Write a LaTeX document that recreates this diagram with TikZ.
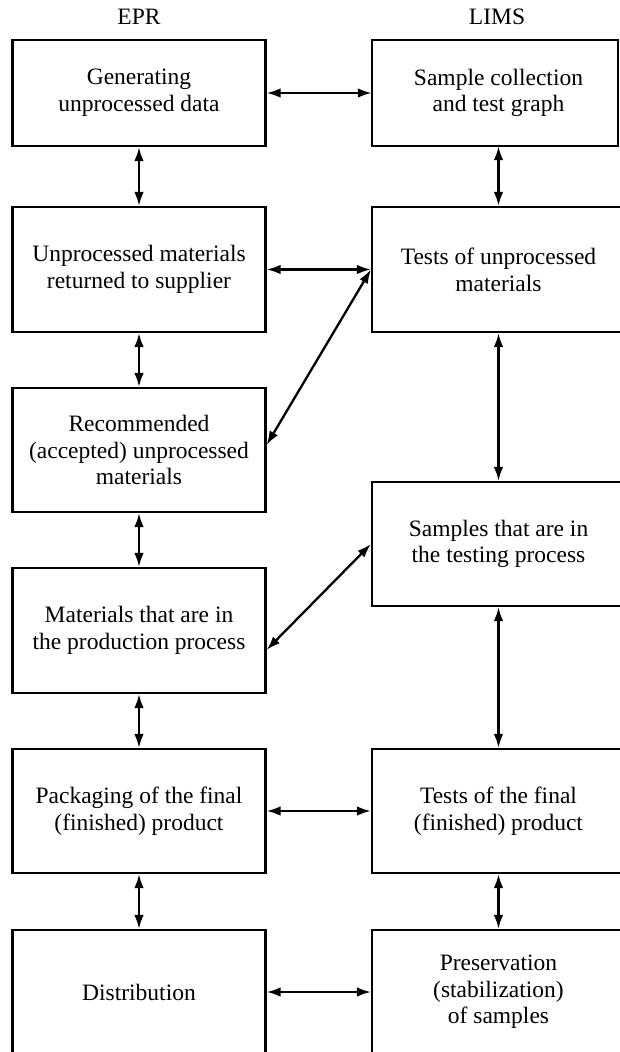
\documentclass[tikz,border=0pt]{standalone}
\usepackage{fontspec}
\setmainfont{Liberation Serif}
\usetikzlibrary{arrows.meta}
\begin{document}
\begin{tikzpicture}[x=1pt,y=-1pt,
  txt/.style={font=\fontsize{23.5}{26.7}\selectfont, align=center, inner sep=0pt},
  box/.style={txt, draw, line width=2.1pt, minimum width=253pt},
  nobox/.style={txt, minimum width=253pt},
  arr/.style={line width=2.3pt, {Latex[length=14pt,width=9.5pt]}-{Latex[length=14pt,width=9.5pt]}}]
\useasboundingbox (0,0) rectangle (619,1052);
\fill[white] (0,0) rectangle (619,1052);
% column titles
\node[txt] (epr) at (139,17) {EPR};
\node[txt] (lims) at (497,17) {LIMS};
% left column
\node[box, minimum height=106pt] (L1) at (139,93) {Generating\\unprocessed data};
\node[box, minimum height=125pt] (L2) at (139,269.5) {Unprocessed materials\\returned to supplier};
\node[box, minimum height=124pt] (L3) at (139,450) {Recommended\\(accepted) unprocessed\\materials};
\node[box, minimum height=125pt] (L4) at (139,630.5) {Materials that are in\\the production process};
\node[box, minimum height=124pt] (L5) at (139,811) {Packaging of the final\\(finished) product};
\node[box, minimum height=124pt] (L6) at (139,992) {Distribution};
% right column
\node[nobox, minimum height=106pt] (R1) at (498.5,93) {Sample collection\\and test graph};
\draw[line width=2.1pt] (R1.north west) rectangle ([xshift=-7.5pt]R1.south east);
\node[box, minimum height=125pt] (R2) at (498.5,269.5) {Tests of unprocessed\\materials};
\node[box, minimum height=124pt] (R3) at (498.5,544) {Samples that are in\\the testing process};
\node[box, minimum height=124pt] (R4) at (498.5,811) {Tests of the final\\(finished) product};
\node[box, minimum height=124pt] (R5) at (498.5,992) {Preservation\\(stabilization)\\of samples};
% vertical connectors
\draw[arr] (L1) -- (L2);
\draw[arr] (L2) -- (L3);
\draw[arr] (L3) -- (L4);
\draw[arr] (L4) -- (L5);
\draw[arr] (L5) -- (L6);
\draw[arr] (R1) -- (R2);
\draw[arr] (R2) -- (R3);
\draw[arr] (R3) -- (R4);
\draw[arr] (R4) -- (R5);
% horizontal connectors
\draw[arr] (L1) -- (R1);
\draw[arr] (L2) -- (R2);
\draw[arr] (L5) -- (R4);
\draw[arr] (L6) -- (R5);
% diagonal connectors
\draw[arr] (R2.west) -- ([yshift=5pt]L3.east);
\draw[arr] (R3.west) -- ([yshift=-19.5pt]L4.east);
\end{tikzpicture}
\end{document}
